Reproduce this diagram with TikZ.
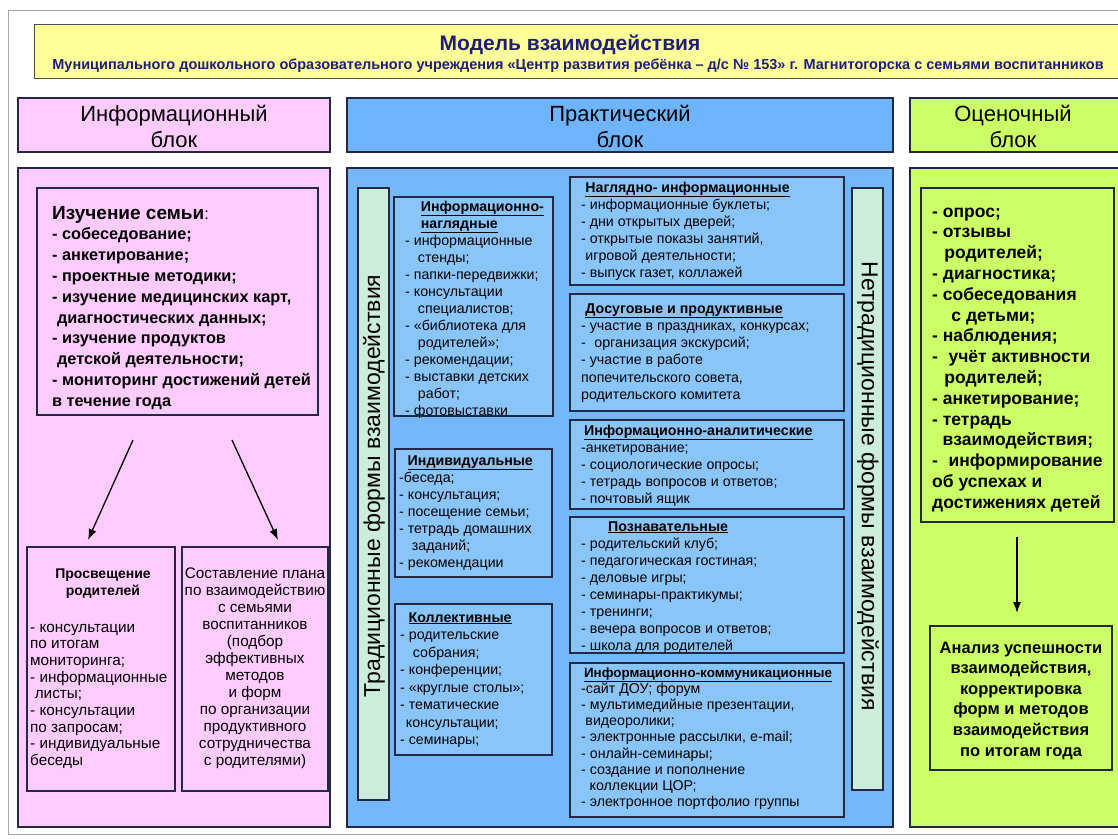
\documentclass[tikz,border=0pt]{standalone}
\usepackage{fontspec}
\setmainfont{Liberation Sans}
\usetikzlibrary{arrows.meta,fit}
\definecolor{pinkbg}{RGB}{255,204,255}
\definecolor{bluehead}{RGB}{110,180,255}
\definecolor{bluebg}{RGB}{116,184,252}
\definecolor{bluebox}{RGB}{138,197,250}
\definecolor{greenbg}{RGB}{204,255,102}
\definecolor{yellowbg}{RGB}{255,255,153}
\definecolor{mint}{RGB}{204,236,220}
\definecolor{edge}{RGB}{35,40,70}
\definecolor{navy}{RGB}{30,30,120}
\newcommand{\setfs}[2]{\fontsize{#1}{#2}\selectfont}
\newcommand{\ul}[1]{\underline{\textbf{#1}}}
\newcommand{\ind}[1][0.9em]{\hspace*{#1}}
\begin{document}
\begin{tikzpicture}[x=1pt,y=-1pt,
  box/.style={draw=edge, line width=1.2pt, inner sep=0pt, outer sep=0pt},
  txt/.style={inner sep=0pt, anchor=base west, align=left, text=black},
  ctxt/.style={inner sep=0pt, anchor=base, align=center, text=black},
  midtxt/.style={txt, font=\setfs{14.2}{17}},
  head/.style={inner sep=0pt, align=center, text=black, font=\setfs{22}{26}},
  vbar/.style={box, fill=mint},
  arr/.style={-{Latex[length=11pt,width=8pt]}, line width=1.3pt, black}
]
\useasboundingbox (0,0) rectangle (1118,838);
\fill[white] (0,0) rectangle (1118,838);
\draw[gray!70, line width=0.8pt] (8,10) rectangle (1130,834);

% title
\node[box, draw=gray!60!black, line width=0.8pt, fill=yellowbg, fit={(34,24) (1125,78)}] (title) {};
\node[inner sep=0pt, text=navy, font=\setfs{21}{22}\bfseries] (t1) at (570,45) {Модель взаимодействия};
\node[inner sep=0pt, text=navy, font=\setfs{14.5}{15}\bfseries] (t2) at (578,66) {Муниципального дошкольного образовательного учреждения «Центр развития ребёнка – д/с № 153» г. Магнитогорска с семьями воспитанников};

% headers
\node[box, fill=pinkbg, fit={(18,98) (330,152)}] (hinfo) {};
\node[box, fill=bluehead, fit={(347,98) (893,152)}] (hprac) {};
\node[box, fill=greenbg, fit={(910,98) (1125,152)}] (hocen) {};
\node[head] (hinfot) at (174,126) {Информационный\\блок};
\node[head] (hpract) at (620,126) {Практический\\блок};
\node[head] (hocent) at (1013,126) {Оценочный\\блок};

% panels
\node[box, fill=pinkbg, fit={(18,168) (330,827)}] (pinfo) {};
\node[box, fill=bluebg, fit={(347,168) (893,827)}] (pprac) {};
\node[box, fill=greenbg, fit={(910,168) (1125,827)}] (pocen) {};

% ---------- information block (text nodes anchored at the baseline of their last line)
\node[box, line width=1.4pt, fit={(37,188) (318,415)}] (study) {};
\node[txt, font=\setfs{16.3}{20.8}\bfseries] (studyt) at (52,406.2) {{\setfs{19}{20.8}Изучение семьи}\textmd{:}\\
- собеседование;\\
- анкетирование;\\
- проектные методики;\\
- изучение медицинских карт,\\
\ind[0.3em]диагностических данных;\\
- изучение продуктов\\
\ind[0.3em]детской деятельности;\\
- мониторинг достижений детей\\
в течение года};

\coordinate (a1s) at (133,440);
\coordinate (a1e) at (88,540);
\coordinate (a2s) at (232,440);
\coordinate (a2e) at (278,540);
\draw[arr] (a1s) -- (a1e);
\draw[arr] (a2s) -- (a2e);

\node[box, fit={(27,547) (175,791)}] (enl) {};
\node[box, fit={(182,547) (328,791)}] (plan) {};
\node[ctxt, font=\setfs{14}{17}\bfseries] (enlt1) at (103,595) {Просвещение\\родителей};
\node[txt, font=\setfs{15.3}{16.7}] (enlt2) at (30,765.6) {- консультации\\
по итогам\\
мониторинга;\\
- информационные\\
\ind[0.3em]листы;\\
- консультации\\
по запросам;\\
- индивидуальные\\
беседы};
\node[ctxt, font=\setfs{15.3}{17}] (plant) at (255,765) {Составление плана\\
по взаимодействию\\
с семьями\\
воспитанников\\
(подбор\\
эффективных\\
методов\\
и форм\\
по организации\\
продуктивного\\
сотрудничества\\
с родителями)};

% ---------- practical block
\node[vbar, fit={(358,188) (389,800)}] (trad) {};
\node[inner sep=0pt, rotate=90, font=\setfs{23}{24}] (tradt) at (374,486) {Традиционные формы взаимодействия};
\node[vbar, fit={(852,188) (883,790)}] (netrad) {};
\node[inner sep=0pt, rotate=-90, font=\setfs{23}{24}] (netradt) at (868,486) {Нетрадиционные формы взаимодействия};

\node[box, fill=bluebox, fit={(394,197) (553,416)}] (b1) {};
\node[midtxt] (b1t) at (405,415) {\ind[1.1em]\ul{Информационно-}\\
\ind[1.1em]\ul{наглядные}\\
- информационные\\
\ind стенды;\\
- папки-передвижки;\\
- консультации\\
\ind специалистов;\\
- «библиотека для\\
\ind родителей»;\\
- рекомендации;\\
- выставки детских\\
\ind работ;\\
- фотовыставки};

\node[box, fill=bluebox, fit={(395,449) (552,577)}] (b2) {};
\node[midtxt] (b2t) at (399,567) {\ind[0.6em]\ul{Индивидуальные}\\
-беседа;\\
- консультация;\\
- посещение семьи;\\
- тетрадь домашних\\
\ind заданий;\\
- рекомендации};

\node[box, fill=bluebox, fit={(395,604) (552,755)}] (b3) {};
\node[midtxt, font=\setfs{14.2}{17.5}] (b3t) at (400,744.5) {\ind[0.6em]\ul{Коллективные}\\
- родительские\\
\ind собрания;\\
- конференции;\\
- «круглые столы»;\\
- тематические\\
\ind[0.4em]консультации;\\
- семинары;};

\node[box, fill=bluebox, fit={(570,177) (844,285)}] (r1) {};
\node[midtxt] (r1t) at (581,277) {\ind[0.3em]\ul{Наглядно- информационные}\\
- информационные буклеты;\\
- дни открытых дверей;\\
- открытые показы занятий,\\
\ind[0.3em]игровой деятельности;\\
- выпуск газет, коллажей};

\node[box, fill=bluebox, fit={(570,294) (844,411)}] (r2) {};
\node[midtxt, font=\setfs{14.2}{17.3}] (r2t) at (581,399.5) {\ind[0.3em]\ul{Досуговые и продуктивные}\\
- участие в праздниках, конкурсах;\\
-\ind[0.6em]организация экскурсий;\\
- участие в работе\\
попечительского совета,\\
родительского комитета};

\node[box, fill=bluebox, fit={(570,420) (844,509)}] (r3) {};
\node[midtxt, font=\setfs{14.2}{17.2}] (r3t) at (581,503.8) {\ind[0.2em]\ul{Информационно-аналитические}\\
-анкетирование;\\
- социологические опросы;\\
- тетрадь вопросов и ответов;\\
- почтовый ящик};

\node[box, fill=bluebox, fit={(570,517) (844,653)}] (r4) {};
\node[midtxt, font=\setfs{14.2}{17.1}] (r4t) at (581,650.7) {\ind[1.9em]\ul{Познавательные}\\
- родительский клуб;\\
- педагогическая гостиная;\\
- деловые игры;\\
- семинары-практикумы;\\
- тренинги;\\
- вечера вопросов и ответов;\\
- школа для родителей};

\node[box, fill=bluebox, fit={(570,663) (844,817)}] (r5) {};
\node[midtxt, font=\setfs{14.2}{16.2}] (r5t) at (581,806.6) {\ind[0.2em]{\setfs{13.4}{16.2}\ul{Информационно-коммуникационные}}\\
-сайт ДОУ; форум\\
- мультимедийные презентации,\\
\ind[0.3em]видеоролики;\\
- электронные рассылки,\ind[0.3em]e-mail;\\
- онлайн-семинары;\\
- создание и пополнение\\
\ind[0.6em]коллекции ЦОР;\\
- электронное портфолио группы};

% ---------- evaluation block
\node[box, fit={(921,188) (1114,522)}] (eval) {};
\node[txt, font=\setfs{17.5}{20.8}\bfseries] (evalt) at (932,508.2) {- опрос;\\
- отзывы\\
\ind[0.7em]родителей;\\
- диагностика;\\
- собеседования\\
\ind[1.1em]с детьми;\\
- наблюдения;\\
-\ind[0.6em]учёт активности\\
\ind[0.7em]родителей;\\
- анкетирование;\\
- тетрадь\\
\ind[0.6em]взаимодействия;\\
-\ind[0.6em]информирование\\
об успехах и\\
достижениях детей};

\coordinate (a3s) at (1017,537);
\coordinate (a3e) at (1017,613);
\draw[arr] (a3s) -- (a3e);

\node[box, fit={(930,626) (1112,770)}] (anal) {};
\node[ctxt, font=\setfs{16.5}{20.6}\bfseries] (analt) at (1021,756) {Анализ успешности\\
взаимодействия,\\
корректировка\\
форм и методов\\
взаимодействия\\
по итогам года};
\end{tikzpicture}
\end{document}
